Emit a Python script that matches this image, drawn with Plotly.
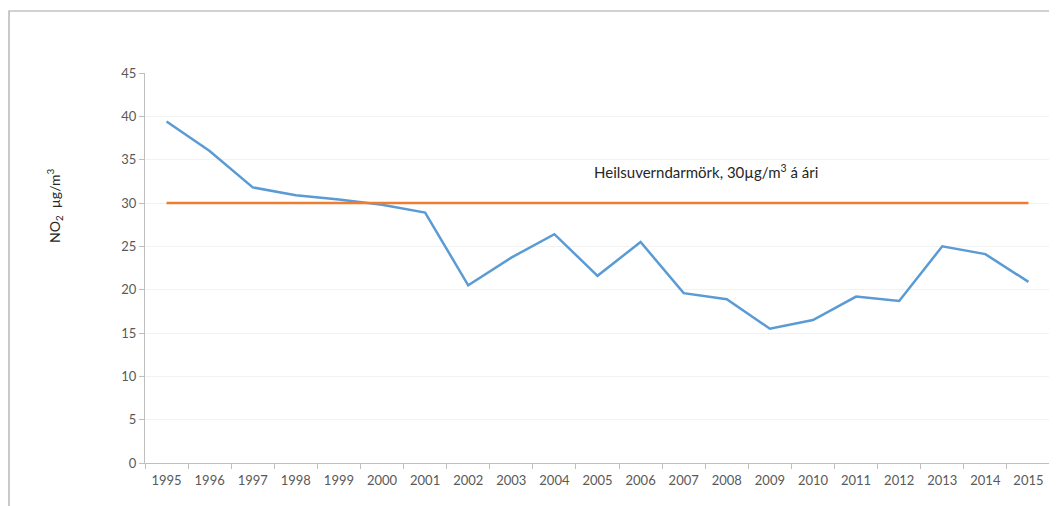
import plotly.graph_objects as go

years = [str(y) for y in range(1995, 2016)]
no2 = [39.4, 36.0, 31.8, 30.9, 30.4, 29.8, 28.9, 20.5, 23.7, 26.4, 21.6, 25.5,
       19.6, 18.9, 15.5, 16.5, 19.2, 18.7, 25.0, 24.1, 20.9]
limit = [30] * len(years)
limit_label = "Heilsuverndarmörk, 30µg/m<sup>3</sup> á ári"
y_title = "NO<sub>2</sub>  µg/m<sup>3</sup>"

# page body has an 8px default margin; work in window pixel coords
OFF = 8
W, H = 1057 - OFF, 506 - OFF
L, R, T, B = 145 - OFF, 7, 73 - OFF, 43
pw, ph = W - L - R, H - T - B

def px(x):
    return (x - OFF - L) / pw

def py(y):
    return (H - B - (y - OFF)) / ph

font = dict(family="Lato, Open Sans, sans-serif", size=13, color="#595959")

fig = go.Figure()
fig.add_trace(go.Scatter(x=years, y=no2, mode="lines",
                         line=dict(color="#5B9BD5", width=2.5), showlegend=False))
fig.add_trace(go.Scatter(x=years, y=limit, mode="lines",
                         line=dict(color="#ED7D31", width=2.5), showlegend=False))

fig.update_layout(
    width=W, height=H,
    margin=dict(l=L, r=R, t=T, b=B),
    paper_bgcolor="white", plot_bgcolor="white",
    font=font,
    xaxis=dict(type="category", range=[-0.5, 20.5], showgrid=False,
               showline=True, linecolor="#bfbfbf", linewidth=1,
               ticks="outside", tickson="boundaries", ticklen=5, tickcolor="#bfbfbf",
               ticklabelstandoff=5, tickfont=font),
    yaxis=dict(range=[0, 45], dtick=5, showgrid=True, gridcolor="#f2f2f2",
               showline=True, linecolor="#bfbfbf", linewidth=1,
               ticks="outside", ticklen=5, tickcolor="#bfbfbf",
               zeroline=False, tickfont=font),
    annotations=[
        dict(text=limit_label, x=px(592), y=py(171), xref="paper", yref="paper",
             xanchor="left", yanchor="middle", showarrow=False,
             font=dict(family="Lato, Open Sans, sans-serif", size=15, color="#262626")),
        dict(text=y_title, x=px(54), y=py(206), xref="paper", yref="paper",
             xanchor="center", yanchor="middle", showarrow=False, textangle=-90,
             font=dict(family="Lato, Open Sans, sans-serif", size=14, color="#262626")),
    ],
    shapes=[
        dict(type="rect", xref="paper", yref="paper",
             x0=px(9), x1=px(1075), y0=py(11), y1=py(520),
             line=dict(color="#a6a6a6", width=1.2), fillcolor="rgba(0,0,0,0)", layer="below"),
    ],
)

fig.write_html("out.html")
